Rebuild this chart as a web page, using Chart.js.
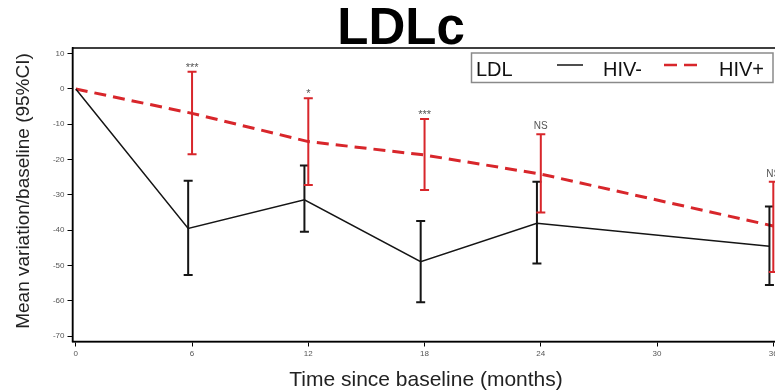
<!DOCTYPE html>
<html>
<head>
<meta charset="utf-8">
<script src="https://cdn.jsdelivr.net/npm/chart.js@4/dist/chart.umd.min.js"></script>
<style>
  html, body { margin: 0; padding: 0; background: #fff; overflow: hidden; }
  canvas { display: block; }
</style>
</head>
<body>
<canvas id="chart" width="800" height="392" style="width:800px;height:392px"></canvas>
<script>
// Follow-up visits (months since baseline)
const months = [0, 6, 12, 18, 24, 36];

// Mean LDLc variation from baseline (%) with 95% CI, HIV- group
const hivNegMean = [0, -39.5, -31.4, -48.9, -38.0, -44.5];
const hivNegLow  = [null, -52.7, -40.4, -60.4, -49.4, -55.5];
const hivNegHigh = [null, -26.0, -21.7, -37.4, -26.3, -33.3];

// Mean LDLc variation from baseline (%) with 95% CI, HIV+ group
const hivPosMean = [0, -6.9, -14.9, -18.7, -24.1, -38.8];
const hivPosLow  = [null, -18.5, -27.2, -28.6, -35.0, -51.8];
const hivPosHigh = [null, 4.9, -2.6, -8.5, -12.8, -26.3];

// Between-group significance at each visit
const sigLabels = ['', '***', '*', '***', 'NS', 'NS'];

// Axis ticks
const xTicks = [0, 6, 12, 18, 24, 30, 36];
const yTicks = [10, 0, -10, -20, -30, -40, -50, -60, -70];

const BLACK = '#151515';
const RED = '#d8262b';
const FONT = '"Liberation Sans", Arial, sans-serif';
const NEG_DODGE = -0.2; // small horizontal offset so both groups' bars stay visible

const negX = months.map(m => (m === 0 ? 0 : m + NEG_DODGE));
const posX = months.slice();

const toPoints = (xs, ys) => xs.map((x, i) => ({ x, y: ys[i] }));

const decorations = {
  id: 'decorations',
  afterDatasetsDraw(chart) {
    const { ctx, chartArea, scales } = chart;
    const xs = scales.x, ys = scales.y;

    // confidence interval bars
    const bars = (xVals, lo, hi, color) => {
      ctx.save();
      ctx.strokeStyle = color;
      ctx.lineWidth = 2;
      const cap = 4.5;
      xVals.forEach((xv, i) => {
        if (lo[i] === null) return;
        const px = xs.getPixelForValue(xv);
        const yl = ys.getPixelForValue(lo[i]);
        const yh = ys.getPixelForValue(hi[i]);
        ctx.beginPath();
        ctx.moveTo(px, yl); ctx.lineTo(px, yh);
        ctx.moveTo(px - cap, yl); ctx.lineTo(px + cap, yl);
        ctx.moveTo(px - cap, yh); ctx.lineTo(px + cap, yh);
        ctx.stroke();
      });
      ctx.restore();
    };
    bars(negX, hivNegLow, hivNegHigh, BLACK);
    bars(posX, hivPosLow, hivPosHigh, RED);

    // significance markers above the HIV+ upper limit
    ctx.save();
    ctx.fillStyle = '#555';
    ctx.textAlign = 'center';
    ctx.textBaseline = 'alphabetic';
    months.forEach((m, i) => {
      if (!sigLabels[i]) return;
      const px = xs.getPixelForValue(posX[i]);
      const py = ys.getPixelForValue(hivPosHigh[i]);
      ctx.font = (sigLabels[i] === 'NS' ? '10px ' : '11px ') + FONT;
      ctx.fillText(sigLabels[i], px, py - (sigLabels[i] === 'NS' ? 5 : 1));
    });
    ctx.restore();

    // frame around the plotting area
    ctx.save();
    ctx.strokeStyle = '#000';
    ctx.lineWidth = 1.5;
    ctx.strokeRect(chartArea.left, chartArea.top, chartArea.right - chartArea.left, chartArea.bottom - chartArea.top);
    ctx.restore();
  },
  afterDraw(chart) {
    const { ctx } = chart;
    ctx.save();
    // main title
    ctx.fillStyle = '#000';
    ctx.textAlign = 'center';
    ctx.textBaseline = 'alphabetic';
    ctx.font = 'bold 51px ' + FONT;
    ctx.fillText('LDLc', 401, 44);

    // axis titles
    ctx.fillStyle = '#222';
    ctx.font = '21px ' + FONT;
    ctx.fillText('Time since baseline (months)', 426, 386);
    ctx.save();
    ctx.translate(29, 191);
    ctx.rotate(-Math.PI / 2);
    ctx.font = '19px ' + FONT;
    ctx.fillText('Mean variation/baseline (95%CI)', 0, 0);
    ctx.restore();

    // legend
    ctx.fillStyle = '#fff';
    ctx.fillRect(471.5, 53, 301.5, 29.5);
    ctx.strokeStyle = '#8a8a8a';
    ctx.lineWidth = 1.5;
    ctx.strokeRect(471.5, 53, 301.5, 29.5);
    ctx.fillStyle = '#111';
    ctx.textAlign = 'left';
    ctx.font = '20px ' + FONT;
    ctx.fillText('LDL', 476, 75.5);
    ctx.fillText('HIV-', 603, 75.5);
    ctx.fillText('HIV+', 719, 75.5);
    ctx.strokeStyle = BLACK;
    ctx.lineWidth = 1.5;
    ctx.beginPath(); ctx.moveTo(557, 65); ctx.lineTo(583, 65); ctx.stroke();
    ctx.strokeStyle = RED;
    ctx.lineWidth = 2.5;
    ctx.setLineDash([13, 7]);
    ctx.beginPath(); ctx.moveTo(664, 65); ctx.lineTo(697, 65); ctx.stroke();
    ctx.restore();
  }
};

new Chart(document.getElementById('chart'), {
  type: 'line',
  data: {
    datasets: [
      {
        label: 'HIV-',
        data: toPoints(negX, hivNegMean),
        borderColor: BLACK,
        borderWidth: 1.5,
        pointRadius: 0,
        tension: 0,
        fill: false
      },
      {
        label: 'HIV+',
        data: toPoints(posX, hivPosMean),
        borderColor: RED,
        borderWidth: 3,
        borderDash: [12, 7],
        pointRadius: 0,
        tension: 0,
        fill: false
      }
    ]
  },
  options: {
    responsive: false,
    animation: false,
    devicePixelRatio: 1,
    layout: { padding: { top: 48, right: 17, left: 0, bottom: 0 } },
    plugins: { legend: { display: false }, title: { display: false }, tooltip: { enabled: false } },
    scales: {
      x: {
        type: 'linear',
        min: -0.17,
        max: 36.5,
        afterBuildTicks: s => { s.ticks = xTicks.map(v => ({ value: v })); },
        afterFit: s => { s.height = 50.5; },
        grid: { display: true, drawOnChartArea: false, drawTicks: true, tickLength: 5, color: '#000', lineWidth: 1 },
        border: { display: true, color: '#000', width: 1.5 },
        ticks: { color: '#555', font: { family: FONT, size: 8 }, padding: 2, maxRotation: 0, autoSkip: false }
      },
      y: {
        type: 'linear',
        min: -71.5,
        max: 11.6,
        afterBuildTicks: s => { s.ticks = yTicks.map(v => ({ value: v })); },
        afterFit: s => { s.width = 72.5; },
        grid: { display: true, drawOnChartArea: false, drawTicks: true, tickLength: 5, color: '#000', lineWidth: 1 },
        border: { display: true, color: '#000', width: 1.5 },
        ticks: { color: '#555', font: { family: FONT, size: 8 }, padding: 3, autoSkip: false }
      }
    }
  },
  plugins: [decorations]
});
</script>
</body>
</html>
